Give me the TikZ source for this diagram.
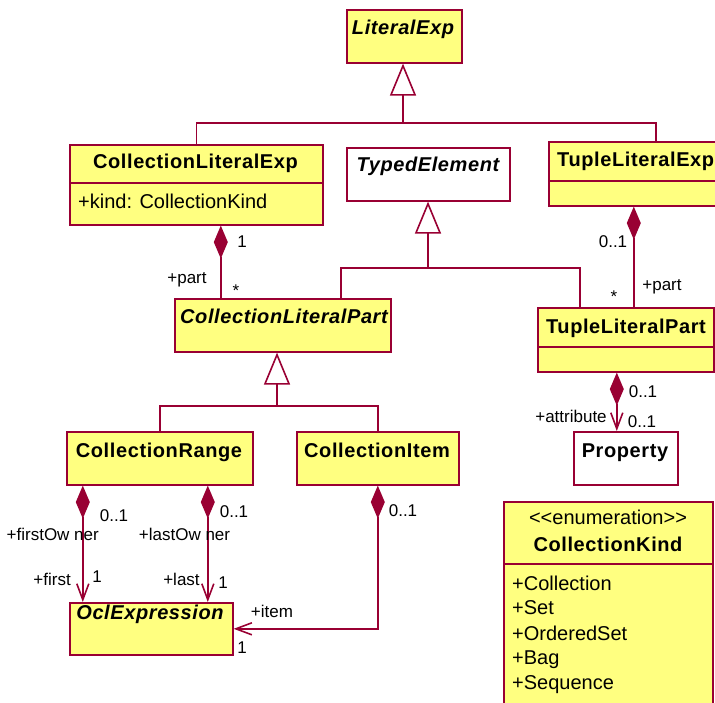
\documentclass[tikz,border=0pt]{standalone}
\usepackage{fontspec}
\setmainfont{Liberation Sans}
\newfontfamily\clsfont{Liberation Sans}[LetterSpace=3]
\usetikzlibrary{arrows.meta}
\definecolor{umlred}{RGB}{153,0,51}
\definecolor{umlfill}{RGB}{255,255,128}

\begin{document}
\begin{tikzpicture}[x=1pt, y=-1pt,
    cls/.style={draw=umlred, line width=1.6pt, fill=umlfill, inner sep=0, anchor=north west},
    plain/.style={cls, fill=white},
    title/.style={font=\clsfont\fontsize{20}{24}\selectfont\bfseries, anchor=base, inner sep=0},
    attr/.style={font=\fontsize{20}{24}\selectfont, anchor=base west, inner sep=0},
    lab/.style={font=\fontsize{17}{20}\selectfont, anchor=base, inner sep=0},
    edge/.style={draw=umlred, line width=1.6pt},
    gen/.style={edge, -{Triangle[open, length=32pt, width=26pt]}},
    comp/.style={edge, {Diamond[length=33pt, width=14pt]}-},
    compnav/.style={edge, {Diamond[length=33pt, width=14pt]}-{Straight Barb[length=16pt, width=12pt]}}]
            \useasboundingbox (0,0) rectangle (715,702);
            \clip (0,0) rectangle (715,702);

            % Define classes
            \node[cls, minimum width=115, minimum height=53] (lit) at (346,9) {};
            \node[cls, minimum width=253, minimum height=80] (cle) at (69,144) {};
            \node[plain, minimum width=163, minimum height=53] (typ) at (346,147) {};
            \node[cls, minimum width=214, minimum height=64] (tle) at (548,141) {};
            \node[cls, minimum width=216, minimum height=53] (clp) at (174,298) {};
            \node[cls, minimum width=176, minimum height=64] (tlp) at (537,307) {};
            \node[cls, minimum width=186, minimum height=53] (cr) at (66,431) {};
            \node[cls, minimum width=162, minimum height=53] (ci) at (296,431) {};
            \node[plain, minimum width=104, minimum height=53] (prop) at (573,431) {};
            \node[cls, minimum width=163, minimum height=52] (ocl) at (69,602) {};
            \node[cls, minimum width=209, minimum height=220] (kind) at (503,501) {};

            % Compartments
            \draw[edge] ([yshift=-39pt]cle.north west) -- ([yshift=-39pt]cle.north east);
            \draw[edge] ([yshift=-40pt]tle.north west) -- ([yshift=-40pt]tle.north east);
            \draw[edge] ([yshift=-40pt]tlp.north west) -- ([yshift=-40pt]tlp.north east);
            \draw[edge] ([yshift=-63pt]kind.north west) -- ([yshift=-63pt]kind.north east);

            % Class names and attributes
            \node[title] (lit-t) at (403,34.5) {\itshape LiteralExp};
            \node[title] (cle-t) at (195.5,168.5) {CollectionLiteralExp};
            \node[attr] (cle-a) at (78,208) {+kind: CollectionKind};
            \node[title] (typ-t) at (428,171) {\itshape TypedElement};
            \node[title, anchor=base west] (tle-t) at (557,166) {TupleLiteralExp};
            \node[title] (clp-t) at (284,323) {\itshape CollectionLiteralPart};
            \node[title] (tlp-t) at (626,333) {TupleLiteralPart};
            \node[title] (cr-t) at (159,457) {CollectionRange};
            \node[title] (ci-t) at (377,457) {CollectionItem};
            \node[title] (prop-t) at (625,457) {Property};
            \node[title] (ocl-t) at (150,619) {\itshape OclExpression};
            \node[attr, anchor=base] (kind-s) at (608,524) {<{}<enumeration>{}>};
            \node[title] (kind-t) at (608,551) {CollectionKind};
            \foreach \y/\t in {590/Collection, 614.5/Set, 640/OrderedSet, 664.5/Bag, 689/Sequence}
                \node[attr] (kind-\t) at (512,\y) {+\t};

            % Generalizations
            \coordinate (g1) at (403,123);
            \coordinate (g2) at (428,268);
            \coordinate (g3) at (277,406);
            \draw[gen] (g1) -- (g1 |- lit.south);
            \draw[edge] (cle.north) |- (g1) -| (tle.north);
            \draw[gen] (g2) -- (g2 |- typ.south);
            \draw[edge] ([xshift=58pt]clp.north) |- (g2) -| ([xshift=-46pt]tlp.north);
            \draw[gen] (g3) -- (g3 |- clp.south);
            \draw[edge] (cr.north) |- (g3) -| (ci.north);

            % Compositions
            \coordinate (p1) at ([xshift=24.5pt]cle.south);
            \coordinate (p2) at ([xshift=-22pt]tle.south);
            \coordinate (p3) at ([xshift=-9pt]tlp.south);
            \coordinate (p4) at ([xshift=-77pt]cr.south);
            \coordinate (p5) at ([xshift=48pt]cr.south);
            \draw[comp] (p1) -- (p1 |- clp.north);
            \draw[comp] (p2) -- (p2 |- tlp.north);
            \draw[compnav] (p3) -- (p3 |- prop.north);
            \draw[compnav] (p4) -- (p4 |- ocl.north);
            \draw[compnav] (p5) -- (p5 |- ocl.north);
            \draw[compnav] (ci.south) |- (ocl.east);

            % Role names and multiplicities
            \node[lab] (m1) at (242,247) {1};
            \node[lab] (r1) at (187,283) {+part};
            \node[lab] (m2) at (236,296) {*};
            \node[lab] (m3) at (613,247) {0..1};
            \node[lab] (m4) at (614,302) {*};
            \node[lab] (r2) at (662,290) {+part};
            \node[lab] (m5) at (643,397) {0..1};
            \node[lab] (r3) at (571,422) {+attribute};
            \node[lab] (m6) at (642,427) {0..1};
            \node[lab] (m7) at (114,521) {0..1};
            \node[lab, anchor=base east] (r4) at (99,540) {+firstOw ner};
            \node[lab, anchor=base east] (r5) at (71,585) {+first};
            \node[lab] (m8) at (97,582) {1};
            \node[lab] (m9) at (234,517) {0..1};
            \node[lab] (r6) at (184.5,540) {+lastOw ner};
            \node[lab] (r7) at (181.5,585) {+last};
            \node[lab] (m10) at (223,588) {1};
            \node[lab] (m11) at (403,516) {0..1};
            \node[lab] (r8) at (272,617) {+item};
            \node[lab] (m12) at (242,653) {1};
        \end{tikzpicture}
\end{document}
